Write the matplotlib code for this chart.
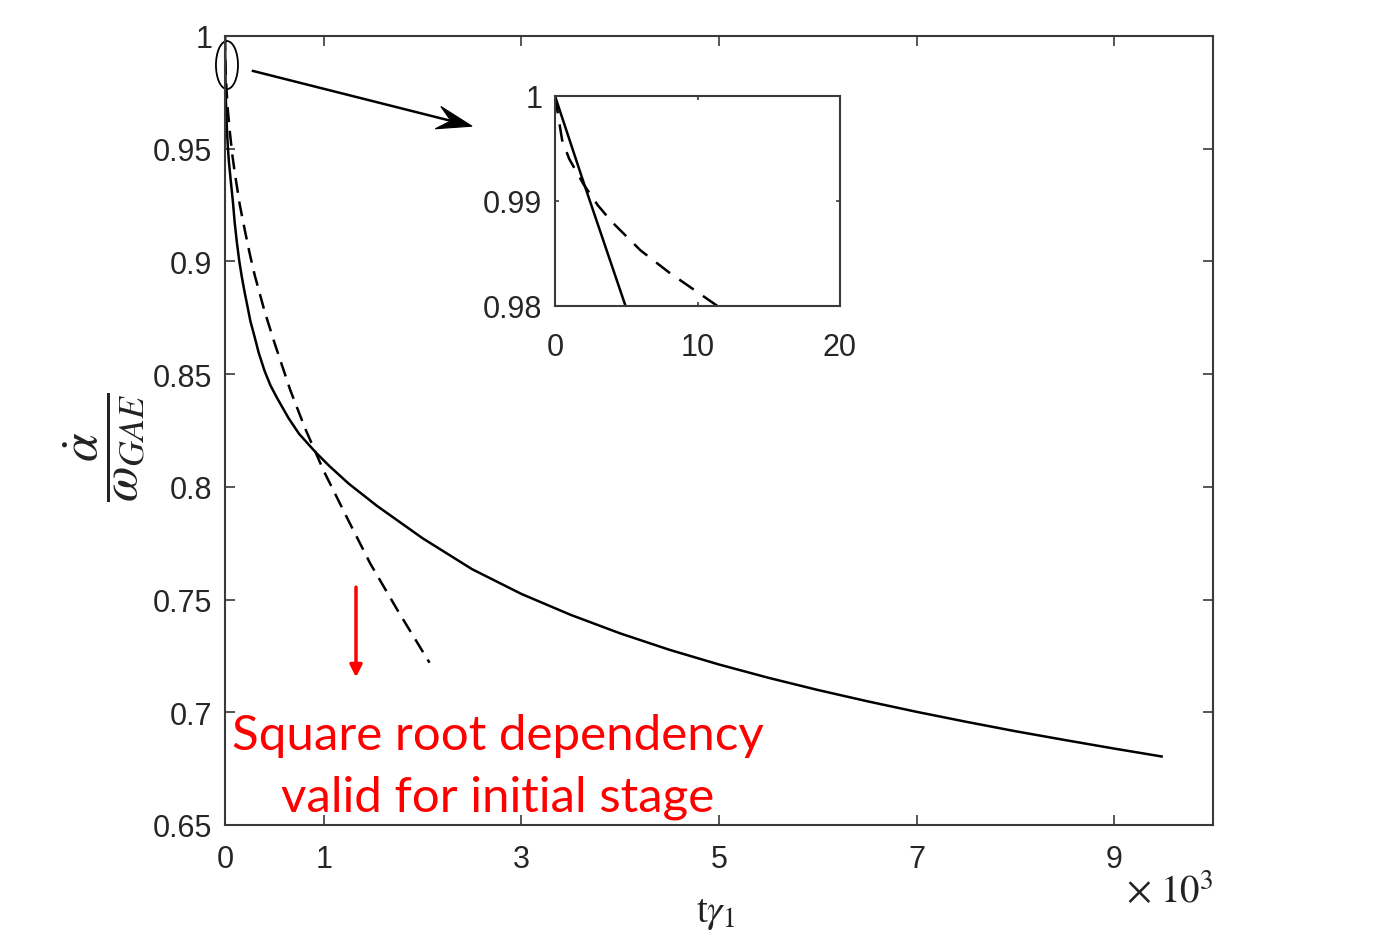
import matplotlib
matplotlib.use("Agg")
import matplotlib.pyplot as plt
import numpy as np
from matplotlib.patches import Ellipse, Polygon
from matplotlib.transforms import IdentityTransform

plt.rcParams['mathtext.fontset'] = 'stix'

# ---- data (x in units of 10^3 for main axis) ----
solid_x = [0.0, 0.001, 0.002, 0.003, 0.004, 0.005, 0.01, 0.02, 0.03, 0.04, 0.06, 0.08,
           0.098, 0.12, 0.145, 0.17, 0.2, 0.23, 0.257, 0.3, 0.341, 0.4, 0.46, 0.526,
           0.643, 0.75, 0.914, 1.05, 1.25, 1.54, 2.0, 2.5, 3.0, 3.5, 4.0, 4.5,
           5.0, 5.5, 6.0, 6.5, 7.0, 7.5, 8.0, 8.5, 9.0, 9.48]
solid_y = [1.0, 0.9959, 0.9918, 0.9878, 0.9838, 0.9798, 0.970, 0.958, 0.950, 0.944, 0.935, 0.9265,
           0.9173, 0.9085, 0.900, 0.8932, 0.886, 0.8795, 0.8735, 0.8665, 0.8595, 0.8515, 0.845, 0.8395,
           0.8305, 0.8235, 0.8155, 0.8095, 0.8015, 0.7915, 0.7772, 0.7635, 0.7525, 0.7432, 0.735, 0.7277,
           0.7212, 0.7153, 0.7099, 0.7049, 0.7002, 0.6958, 0.6916, 0.6877, 0.6839, 0.6804]

dash_x = [0.0, 0.0005, 0.001, 0.002, 0.003, 0.004, 0.006, 0.008, 0.0114, 0.015, 0.02, 0.03,
          0.05, 0.075, 0.1, 0.15, 0.2, 0.25, 0.3, 0.4, 0.5, 0.66, 0.81, 1.0, 1.25, 1.47,
          1.75, 2.07]
dash_y = [1.0, 0.9958, 0.9940, 0.9916, 0.9896, 0.9880, 0.9853, 0.9832, 0.980, 0.9765, 0.973, 0.9665,
          0.957, 0.947, 0.939, 0.925, 0.914, 0.9035, 0.894, 0.878, 0.864, 0.843, 0.826, 0.807, 0.785, 0.766,
          0.745, 0.722]

main_xticks = [0, 1, 3, 5, 7, 9]
main_yticks = [0.65, 0.7, 0.75, 0.8, 0.85, 0.9, 0.95, 1.0]
main_yticklabels = ['0.65', '0.7', '0.75', '0.8', '0.85', '0.9', '0.95', '1']
inset_xticks = [0, 10, 20]
inset_yticks = [0.98, 0.99, 1.0]
inset_yticklabels = ['0.98', '0.99', '1']

W, H = 1378, 937
fig = plt.figure(figsize=(W / 100, H / 100), dpi=100)

axcol = '#3a3a3a'
tickcol = '#262626'

ax = fig.add_axes([225 / W, 1 - 826 / H, (1213 - 225) / W, (826 - 37) / H])
ax.plot(solid_x, solid_y, color='black', lw=1.8, solid_joinstyle='round')
ax.plot(dash_x, dash_y, color='black', lw=1.8, linestyle=(0, (6, 3.5)))
ax.set_xlim(0, 10)
ax.set_ylim(0.65, 1.0)
ax.set_xticks(main_xticks)
ax.set_xticklabels([str(v) for v in main_xticks])
ax.set_yticks(main_yticks)
ax.set_yticklabels(main_yticklabels)
for s in ax.spines.values():
    s.set_color(axcol)
    s.set_linewidth(1.5)
ax.tick_params(direction='in', length=7, width=1.2, color=axcol, top=True, right=True,
               labelsize=22, labelcolor=tickcol, labelfontfamily='Liberation Sans')
ax.tick_params(axis='x', pad=14)
ax.tick_params(axis='y', pad=9)

# y label (fraction)
fig.text(104 / W, 1 - 447 / H, r'$\dfrac{\dot{\alpha}}{\omega_{GAE}}$', rotation=90,
         fontsize=37, ha='center', va='center', color='#222222')
# x label
fig.text(716 / W, 1 - 922 / H, r't$\gamma_1$', fontsize=28, ha='center', va='baseline',
         family='Liberation Serif', color='#222222')
# x10^3 multiplier
fig.text(1126 / W, 1 - 903 / H, r'$\times\ 10^3$', fontsize=28, ha='left', va='baseline',
         color='#222222')

# ellipse marking the zoom region
ell = Ellipse((0.02, 0.9871), 0.223, 0.0213, fill=False, edgecolor='black', lw=1.3,
              clip_on=False)
ax.add_patch(ell)

# black arrow with concave head (pixel-space geometry)
p0 = ax.transData.transform((0.283, 0.9845))
p1 = ax.transData.transform((2.50, 0.960))
u = (p1 - p0) / np.hypot(*(p1 - p0))
n = np.array([-u[1], u[0]])
L, w = 35.0, 11.5
notch = p1 - 0.62 * L * u
ax.add_line(plt.Line2D([p0[0], notch[0] + 2 * u[0]], [p0[1], notch[1] + 2 * u[1]],
                       transform=IdentityTransform(), color='black', lw=1.8))
head = Polygon([p1, p1 - L * u + w * n, notch, p1 - L * u - w * n], closed=True,
               facecolor='black', edgecolor='black', lw=0.8, transform=IdentityTransform())
ax.add_patch(head)

# red annotation
ax.annotate('', xy=(1.326, 0.7155), xytext=(1.326, 0.7555),
            arrowprops=dict(arrowstyle='-|>', color='red', lw=2.5,
                            mutation_scale=18, shrinkA=0, shrinkB=0))
ax.text(2.763, 0.6837, 'Square root dependency', color='red', fontsize=35.5,
        family='Lato', ha='center', va='baseline', clip_on=False)
ax.text(2.763, 0.6565, 'valid for initial stage', color='red', fontsize=35.5,
        family='Lato', ha='center', va='baseline', clip_on=False)

# inset (x in raw units)
ins = fig.add_axes([555 / W, 1 - 307 / H, (840 - 555) / W, (307 - 97) / H])
ins.plot([v * 1000 for v in solid_x], solid_y, color='black', lw=1.8)
ins.plot([v * 1000 for v in dash_x], dash_y, color='black', lw=1.8, linestyle=(0, (7, 4.5)))
ins.set_xlim(0, 20)
ins.set_ylim(0.98, 1.0)
ins.set_xticks(inset_xticks)
ins.set_xticklabels([str(v) for v in inset_xticks])
ins.set_yticks(inset_yticks)
ins.set_yticklabels(inset_yticklabels)
for s in ins.spines.values():
    s.set_color(axcol)
    s.set_linewidth(1.5)
ins.tick_params(direction='in', length=3, width=1.2, color=axcol, top=True, right=True,
                labelsize=22, labelcolor=tickcol, labelfontfamily='Liberation Sans')
ins.tick_params(axis='x', pad=19)
ins.tick_params(axis='y', pad=9)

fig.savefig('out.png', dpi=100)
